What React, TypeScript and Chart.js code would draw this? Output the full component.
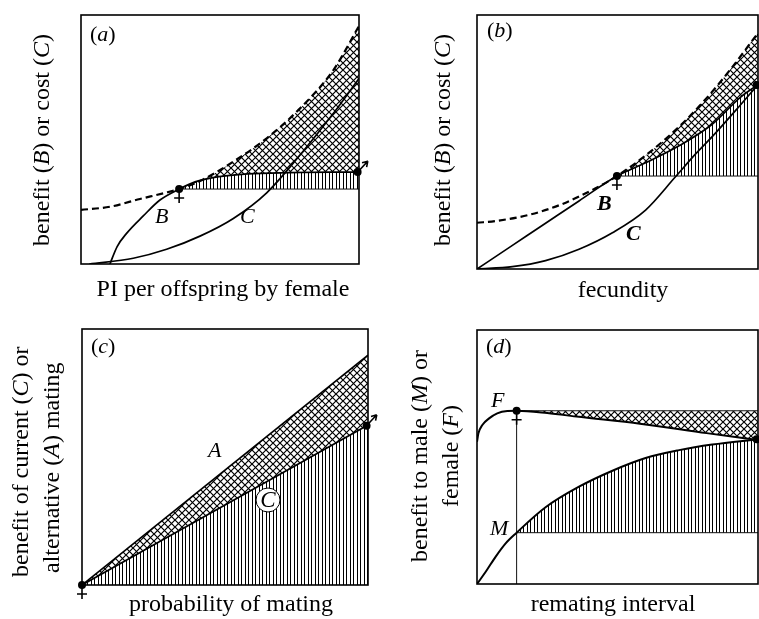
import React, { useEffect, useRef } from 'react';
import { Chart, registerables } from 'chart.js';

Chart.register(...registerables);

const FONT = '"Liberation Serif", "Times New Roman", Times, serif';

// ---------- Panel (a): benefit / cost vs PI per offspring by female
const aDashedX = [0, 0.104, 0.212, 0.296, 0.353, 0.428, 0.548, 0.668, 0.788, 0.908, 1.0];
const aDashedY = [0.217, 0.23, 0.261, 0.284, 0.301, 0.333, 0.411, 0.505, 0.625, 0.779, 0.956];
const aBenefitX = [0.104, 0.13, 0.164, 0.224, 0.284, 0.353, 0.41, 0.49, 0.6, 0.75, 0.9, 1.0];
const aBenefitY = [0, 0.07, 0.123, 0.193, 0.257, 0.301, 0.33, 0.35, 0.362, 0.367, 0.369, 0.369];
const aCostX = [0.03, 0.188, 0.308, 0.428, 0.548, 0.668, 0.788, 0.908, 1.0];
const aCostY = [0, 0.023, 0.059, 0.112, 0.183, 0.286, 0.438, 0.605, 0.745];
const aDotX = [0.353, 0.995];
const aDotY = [0.301, 0.369];

// ---------- Panel (b): benefit / cost vs fecundity
const bDashedX = [0, 0.067, 0.185, 0.304, 0.422, 0.498, 0.616, 0.722, 0.811, 0.9, 1.0];
const bDashedY = [0.182, 0.189, 0.213, 0.256, 0.318, 0.366, 0.461, 0.563, 0.665, 0.783, 0.929];
const bBenefitX = [0, 0.126, 0.244, 0.363, 0.498, 0.6, 0.719, 0.837, 0.936, 1.0];
const bBenefitY = [0, 0.093, 0.18, 0.268, 0.366, 0.418, 0.485, 0.57, 0.675, 0.726];
const bCostX = [0, 0.126, 0.244, 0.363, 0.482, 0.6, 0.707, 0.778, 0.837, 0.932, 1.0];
const bCostY = [0, 0.009, 0.033, 0.078, 0.143, 0.232, 0.364, 0.453, 0.521, 0.639, 0.726];
const bDotX = [0.498, 0.995];
const bDotY = [0.366, 0.724];

// ---------- Panel (c): benefit of current / alternative mating vs probability of mating
const cAltX = [0, 1.0];
const cAltY = [0, 0.898];
const cCurX = [0, 1.0];
const cCurY = [0, 0.625];
const cDotX = [0, 0.995];
const cDotY = [0, 0.622];

// ---------- Panel (d): benefit to male / female vs remating interval
const dFemX = [0, 0.005, 0.019, 0.043, 0.072, 0.108, 0.141, 0.25, 0.363, 0.58, 0.817, 1.0];
const dFemY = [0.56, 0.593, 0.626, 0.652, 0.672, 0.681, 0.682, 0.673, 0.658, 0.631, 0.594, 0.567];
const dMaleX = [0, 0.031, 0.066, 0.102, 0.141, 0.244, 0.363, 0.482, 0.6, 0.719, 0.837, 1.0];
const dMaleY = [0, 0.048, 0.107, 0.16, 0.202, 0.302, 0.383, 0.446, 0.496, 0.527, 0.549, 0.57];
const dDotX = [0.141, 0.995];
const dDotY = [0.682, 0.57];

type Part = [string, number];
type TextSpec = { parts: Part[]; x: number; y: number; size: number; align?: 'left' | 'center'; rotate?: boolean };

const pts = (xs: number[], ys: number[]) => xs.map((x, i) => ({ x, y: ys[i] }));

function fontFor(style: number, size: number) {
  const s = style === 1 ? 'italic ' : style === 2 ? 'italic bold ' : '';
  return `${s}${size}px ${FONT}`;
}

function drawText(ctx: CanvasRenderingContext2D, t: TextSpec, ox: number, oy: number) {
  ctx.save();
  ctx.fillStyle = '#000';
  ctx.textBaseline = 'alphabetic';
  ctx.textAlign = 'left';
  ctx.translate(t.x - ox, t.y - oy);
  if (t.rotate) ctx.rotate(-Math.PI / 2);
  let total = 0;
  const widths = t.parts.map(([s, st]) => {
    ctx.font = fontFor(st, t.size);
    const w = ctx.measureText(s).width;
    total += w;
    return w;
  });
  let cur = t.align === 'center' ? -total / 2 : 0;
  t.parts.forEach(([s, st], i) => {
    ctx.font = fontFor(st, t.size);
    ctx.fillText(s, cur, 0);
    cur += widths[i];
  });
  ctx.restore();
}

interface PanelDef {
  left: number;
  top: number;
  width: number;
  height: number;
  padding: { left: number; top: number; right: number; bottom: number };
  datasets: (cross: CanvasPattern, vert: CanvasPattern) => any[];
  texts: TextSpec[];
  females: [number, number][];
  males: [number, number][];
  circle?: { x: number; y: number; r: number; text: string };
}

const curve = (xs: number[], ys: number[], extra: any = {}) => ({
  data: pts(xs, ys),
  borderColor: '#000',
  borderWidth: 1.7,
  pointRadius: 0,
  fill: false,
  cubicInterpolationMode: 'monotone',
  order: 0,
  ...extra,
});

const thin = (xs: number[], ys: number[]) => ({
  data: pts(xs, ys),
  borderColor: '#111',
  borderWidth: 1,
  pointRadius: 0,
  fill: false,
  tension: 0,
  order: 1,
});

const filler = (xs: number[], ys: number[], fill: any, bg: any) => ({
  data: pts(xs, ys),
  borderColor: 'rgba(0,0,0,0)',
  borderWidth: 0,
  pointRadius: 0,
  fill,
  backgroundColor: bg,
  cubicInterpolationMode: 'monotone',
  order: 10,
});

const dots = (xs: number[], ys: number[]) => ({
  data: pts(xs, ys),
  showLine: false,
  pointRadius: 4,
  pointBackgroundColor: '#000',
  pointBorderColor: '#000',
  pointBorderWidth: 0,
  clip: false,
  order: -1,
});

const panels: PanelDef[] = [
  {
    left: 0, top: 0, width: 380, height: 310,
    padding: { left: 81, top: 15, right: 21, bottom: 46 },
    datasets: (cross, vert) => [
      curve(aDashedX, aDashedY, { borderDash: [7, 4], borderWidth: 2.2 }),
      curve(aBenefitX, aBenefitY),
      curve(aCostX, aCostY),
      thin([aDotX[0], 1], [aDotY[0], aDotY[0]]),
      filler(aDashedX.slice(4), aDashedY.slice(4), 5, cross),
      filler(aBenefitX.slice(5), aBenefitY.slice(5), { value: aDotY[0] }, vert),
      dots(aDotX, aDotY),
    ],
    texts: [
      { parts: [['(', 0], ['a', 1], [')', 0]], x: 90, y: 41, size: 22 },
      { parts: [['PI per offspring by female', 0]], x: 223, y: 296, size: 24, align: 'center' },
      { parts: [['benefit (', 0], ['B', 1], [') or cost (', 0], ['C', 1], [')', 0]], x: 49, y: 140, size: 24, align: 'center', rotate: true },
      { parts: [['B', 1]], x: 155, y: 223, size: 22 },
      { parts: [['C', 1]], x: 240, y: 223, size: 22 },
    ],
    females: [[aDotX[0], aDotY[0]]],
    males: [[aDotX[1], aDotY[1]]],
  },
  {
    left: 380, top: 0, width: 379, height: 310,
    padding: { left: 97, top: 15, right: 1, bottom: 41 },
    datasets: (cross, vert) => [
      curve(bDashedX, bDashedY, { borderDash: [7, 4], borderWidth: 2.2 }),
      curve(bBenefitX, bBenefitY),
      curve(bCostX, bCostY),
      thin([bDotX[0], 1], [bDotY[0], bDotY[0]]),
      filler(bDashedX.slice(5), bDashedY.slice(5), 5, cross),
      filler(bBenefitX.slice(4), bBenefitY.slice(4), { value: bDotY[0] }, vert),
      dots(bDotX, bDotY),
    ],
    texts: [
      { parts: [['(', 0], ['b', 1], [')', 0]], x: 487, y: 37, size: 22 },
      { parts: [['fecundity', 0]], x: 623, y: 297, size: 24, align: 'center' },
      { parts: [['benefit (', 0], ['B', 1], [') or cost (', 0], ['C', 1], [')', 0]], x: 450, y: 140, size: 24, align: 'center', rotate: true },
      { parts: [['B', 2]], x: 597, y: 210, size: 22 },
      { parts: [['C', 2]], x: 626, y: 240, size: 22 },
    ],
    females: [[bDotX[0], bDotY[0]]],
    males: [[bDotX[1], bDotY[1]]],
  },
  {
    left: 0, top: 310, width: 380, height: 309,
    padding: { left: 82, top: 19, right: 12, bottom: 34 },
    datasets: (cross, vert) => [
      curve(cAltX, cAltY, { cubicInterpolationMode: 'default', tension: 0 }),
      curve(cCurX, cCurY, { cubicInterpolationMode: 'default', tension: 0 }),
      filler(cAltX, cAltY, 1, cross),
      filler(cCurX, cCurY, 'origin', vert),
      dots(cDotX, cDotY),
    ],
    texts: [
      { parts: [['(', 0], ['c', 1], [')', 0]], x: 91, y: 353, size: 22 },
      { parts: [['probability of mating', 0]], x: 231, y: 611, size: 24, align: 'center' },
      { parts: [['benefit of current (', 0], ['C', 1], [') or', 0]], x: 28, y: 577, size: 24, rotate: true },
      { parts: [['alternative (', 0], ['A', 1], [') mating', 0]], x: 59, y: 573, size: 24, rotate: true },
      { parts: [['A', 1]], x: 208, y: 457, size: 22 },
    ],
    females: [[cDotX[0], cDotY[0]]],
    males: [[cDotX[1], cDotY[1]]],
    circle: { x: 268, y: 500, r: 12, text: 'C' },
  },
  {
    left: 380, top: 310, width: 379, height: 309,
    padding: { left: 97, top: 20, right: 1, bottom: 35 },
    datasets: (cross, vert) => [
      curve(dFemX, dFemY, { borderWidth: 2 }),
      curve(dMaleX, dMaleY, { borderWidth: 2 }),
      thin([dDotX[0], 1], [dDotY[0], dDotY[0]]),
      thin([dDotX[0], 1], [dMaleY[4], dMaleY[4]]),
      thin([dDotX[0], dDotX[0]], [0, dDotY[0]]),
      filler([dDotX[0], 1], [dDotY[0], dDotY[0]], 0, cross),
      filler(dMaleX.slice(4), dMaleY.slice(4), { value: dMaleY[4] }, vert),
      dots(dDotX, dDotY),
    ],
    texts: [
      { parts: [['(', 0], ['d', 1], [')', 0]], x: 486, y: 353, size: 22 },
      { parts: [['remating interval', 0]], x: 613, y: 611, size: 24, align: 'center' },
      { parts: [['benefit to male (', 0], ['M', 1], [') or', 0]], x: 427, y: 456, size: 24, align: 'center', rotate: true },
      { parts: [['female (', 0], ['F', 1], [')', 0]], x: 458, y: 456, size: 24, align: 'center', rotate: true },
      { parts: [['F', 1]], x: 491, y: 407, size: 22 },
      { parts: [['M', 1]], x: 490, y: 535, size: 22 },
    ],
    females: [[dDotX[0], dDotY[0]]],
    males: [[dDotX[1], dDotY[1]]],
  },
];

function makeCross(ctx: CanvasRenderingContext2D): CanvasPattern {
  const p = 7;
  const c = document.createElement('canvas');
  c.width = p;
  c.height = p;
  const g = c.getContext('2d')!;
  g.strokeStyle = '#000';
  g.lineWidth = 1.2;
  g.beginPath();
  g.moveTo(0, 0);
  g.lineTo(p, p);
  g.moveTo(p, 0);
  g.lineTo(0, p);
  g.stroke();
  return ctx.createPattern(c, 'repeat')!;
}

function makeVert(ctx: CanvasRenderingContext2D): CanvasPattern {
  const c = document.createElement('canvas');
  c.width = 7;
  c.height = 4;
  const g = c.getContext('2d')!;
  g.fillStyle = '#000';
  g.fillRect(0, 0, 1, 4);
  g.fillRect(3, 0, 1, 4);
  return ctx.createPattern(c, 'repeat')!;
}

function decorPlugin(def: PanelDef) {
  return {
    id: 'decor',
    afterDatasetsDraw(chart: any) {
      const ctx: CanvasRenderingContext2D = chart.ctx;
      const xs = chart.scales.x;
      const ys = chart.scales.y;
      const ox = def.left;
      const oy = def.top;
      ctx.save();
      ctx.strokeStyle = '#000';
      ctx.lineWidth = 1.6;
      def.females.forEach(([dx, dy]) => {
        const px = xs.getPixelForValue(dx);
        const py = ys.getPixelForValue(dy);
        ctx.beginPath();
        ctx.moveTo(px, py + 3);
        ctx.lineTo(px, py + 14);
        ctx.moveTo(px - 5, py + 9);
        ctx.lineTo(px + 5, py + 9);
        ctx.stroke();
      });
      def.males.forEach(([dx, dy]) => {
        const px = xs.getPixelForValue(dx);
        const py = ys.getPixelForValue(dy);
        const ux = 0.68;
        const uy = -0.73;
        const tx = px + ux * 15;
        const ty = py + uy * 15;
        ctx.beginPath();
        ctx.moveTo(px + ux * 3, py + uy * 3);
        ctx.lineTo(tx, ty);
        const ang = Math.atan2(uy, ux);
        [-1, 1].forEach((s) => {
          const a2 = ang + Math.PI + s * 0.55;
          ctx.moveTo(tx, ty);
          ctx.lineTo(tx + 6 * Math.cos(a2), ty + 6 * Math.sin(a2));
        });
        ctx.stroke();
      });
      const a = chart.chartArea;
      ctx.lineWidth = 1.6;
      ctx.strokeRect(a.left, a.top, a.right - a.left, a.bottom - a.top);
      if (def.circle) {
        const c = def.circle;
        ctx.beginPath();
        ctx.arc(c.x - ox, c.y - oy, c.r, 0, Math.PI * 2);
        ctx.fillStyle = '#fff';
        ctx.fill();
        ctx.lineWidth = 1;
        ctx.stroke();
        ctx.fillStyle = '#000';
        ctx.font = fontFor(1, 23);
        ctx.textAlign = 'center';
        ctx.textBaseline = 'middle';
        ctx.fillText(c.text, c.x - ox, c.y - oy + 1);
      }
      ctx.restore();
      def.texts.forEach((t) => drawText(ctx, t, ox, oy));
    },
  };
}

export default function App() {
  const refs = [useRef<HTMLCanvasElement>(null), useRef<HTMLCanvasElement>(null), useRef<HTMLCanvasElement>(null), useRef<HTMLCanvasElement>(null)];

  useEffect(() => {
    const charts: Chart[] = [];
    panels.forEach((def, i) => {
      const canvas = refs[i].current;
      if (!canvas) return;
      const ctx = canvas.getContext('2d')!;
      const cross = makeCross(ctx);
      const vert = makeVert(ctx);
      const chart = new Chart(canvas, {
        type: 'line',
        data: { datasets: def.datasets(cross, vert) },
        options: {
          responsive: false,
          animation: false,
          events: [],
          layout: { padding: def.padding, autoPadding: false },
          scales: {
            x: { type: 'linear', min: 0, max: 1, display: false },
            y: { type: 'linear', min: 0, max: 1, display: false },
          },
          plugins: {
            legend: { display: false },
            tooltip: { enabled: false },
            filler: { propagate: false },
          },
        } as any,
        plugins: [decorPlugin(def)],
      });
      charts.push(chart);
    });
    return () => charts.forEach((c) => c.destroy());
  }, []);

  return (
    <div style={{ position: 'fixed', left: 0, top: 0, width: 759, height: 619, background: '#fff', overflow: 'hidden' }}>
      {panels.map((p, i) => (
        <canvas
          key={i}
          ref={refs[i]}
          width={p.width}
          height={p.height}
          style={{ position: 'absolute', left: p.left, top: p.top, width: p.width, height: p.height, display: 'block' }}
        />
      ))}
    </div>
  );
}
